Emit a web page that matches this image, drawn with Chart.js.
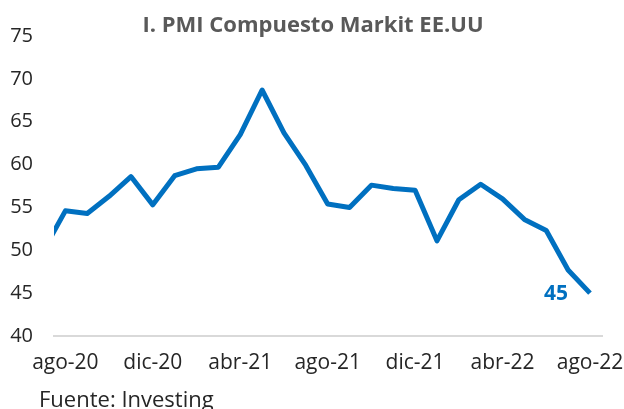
<!DOCTYPE html>
<html lang="es">
<head>
    <meta charset="UTF-8">
    <title>PMI Compuesto Markit EE.UU</title>
    <style>
        html, body { margin: 0; padding: 0; background: #fff; }
        #pmi-chart { display: block; }
    </style>
</head>
<body>
    <canvas id="pmi-chart" width="624" height="409"></canvas>

    <script src="https://cdn.jsdelivr.net/npm/chart.js"></script>
    <script>
        // meses (jul-20 queda medio cortado a la izquierda, como en el original)
        const months = ['jul-20', 'ago-20', 'sep-20', 'oct-20', 'nov-20', 'dic-20',
            'ene-21', 'feb-21', 'mar-21', 'abr-21', 'may-21', 'jun-21', 'jul-21',
            'ago-21', 'sep-21', 'oct-21', 'nov-21', 'dic-21',
            'ene-22', 'feb-22', 'mar-22', 'abr-22', 'may-22', 'jun-22', 'jul-22', 'ago-22'];
        const pmiValues = [50.0, 54.6, 54.3, 56.3, 58.6, 55.3,
            58.7, 59.5, 59.7, 63.5, 68.7, 63.7, 59.9,
            55.4, 55.0, 57.6, 57.2, 57.0,
            51.1, 55.9, 57.7, 56.0, 53.6, 52.3, 47.7, 45.0];
        const xTickIndexes = [1, 5, 9, 13, 17, 21, 25];
        const yTicks = [40, 45, 50, 55, 60, 65, 70, 75];

        const blue = '#0070C0';
        const textColor = '#262626';

        // titulo, fuente y etiqueta del ultimo dato
        const extras = {
            id: 'extras',
            afterDraw(chart) {
                const ctx = chart.ctx;
                ctx.save();
                ctx.fillStyle = '#595959';
                ctx.font = 'bold 22px "Open Sans"';
                ctx.textAlign = 'center';
                ctx.textBaseline = 'alphabetic';
                ctx.fillText('I. PMI Compuesto Markit EE.UU', 313, 32);

                ctx.fillStyle = textColor;
                ctx.font = '22px "Open Sans"';
                ctx.textAlign = 'left';
                ctx.fillText('Fuente: Investing', 39, 407);

                const last = pmiValues.length - 1;
                const x = chart.scales.x.getPixelForValue(last);
                const y = chart.scales.y.getPixelForValue(pmiValues[last]);
                ctx.fillStyle = blue;
                ctx.font = 'bold 21px "Open Sans"';
                ctx.textAlign = 'right';
                ctx.textBaseline = 'middle';
                ctx.fillText(Math.round(pmiValues[last]).toString(), x - 22, y + 1);
                ctx.restore();
            }
        };

        new Chart(document.getElementById('pmi-chart'), {
            type: 'line',
            data: {
                datasets: [{
                    label: 'PMI Compuesto',
                    data: pmiValues.map((v, i) => ({ x: i, y: v })),
                    borderColor: blue,
                    borderWidth: 5,
                    borderJoinStyle: 'round',
                    pointRadius: 0,
                    tension: 0,
                    fill: false,
                    clip: 0
                }]
            },
            options: {
                responsive: false,
                animation: false,
                layout: { padding: { left: 0, right: 22, top: 36, bottom: 33 } },
                plugins: {
                    legend: { display: false },
                    tooltip: { enabled: false }
                },
                scales: {
                    x: {
                        type: 'linear',
                        min: 0.48,
                        max: 25.55,
                        afterBuildTicks: scale => {
                            scale.ticks = xTickIndexes.map(v => ({ value: v }));
                        },
                        afterFit: scale => {
                            scale.height = 40;
                            scale.paddingLeft = 0;
                            scale.paddingRight = 0;
                        },
                        ticks: {
                            autoSkip: false,
                            maxRotation: 0,
                            padding: 14,
                            color: textColor,
                            font: { family: 'Open Sans', size: 21 },
                            callback: v => months[v]
                        },
                        grid: { display: false, drawTicks: false },
                        border: { display: true, color: '#d9d9d9', width: 2 }
                    },
                    y: {
                        min: 40,
                        max: 75,
                        afterBuildTicks: scale => {
                            scale.ticks = yTicks.map(v => ({ value: v }));
                        },
                        afterFit: scale => {
                            scale.width = 54;
                            scale.paddingTop = 0;
                            scale.paddingBottom = 0;
                        },
                        ticks: {
                            padding: 21,
                            color: textColor,
                            font: { family: 'Open Sans', size: 20 }
                        },
                        grid: { display: false, drawTicks: false },
                        border: { display: false }
                    }
                }
            },
            plugins: [extras]
        });
    </script>
</body>
</html>
